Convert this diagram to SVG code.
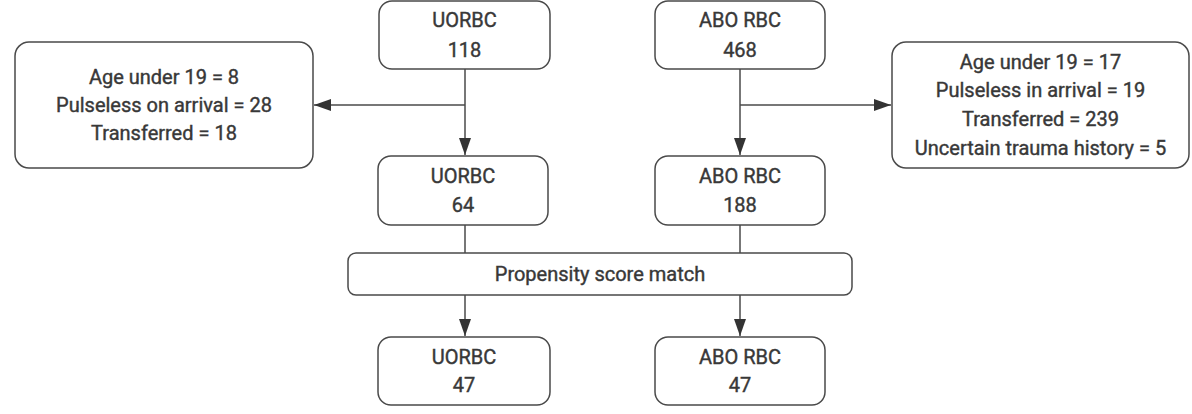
<svg xmlns="http://www.w3.org/2000/svg" width="1192" height="414" viewBox="0 0 1192 414">
  <style>
    .box { fill: #ffffff; stroke: #4a4a4a; stroke-width: 1.5; }
    .lbl { font-family: Roboto, "Liberation Sans", sans-serif; font-size: 20px; fill: #383838; stroke: #383838; stroke-width: 0.4; text-anchor: middle; }
    .edge { fill: none; stroke: #4a4a4a; stroke-width: 1.5; }
  </style>
  <defs>
    <marker id="arrow" markerUnits="userSpaceOnUse" markerWidth="17" markerHeight="12" refX="17" refY="6" orient="auto">
      <path d="M0,0 L17,6 L0,12 Z" fill="#333333"/>
    </marker>
  </defs>
  <rect width="1192" height="414" fill="#ffffff"/>

  <!-- connectors -->
  <g id="connectors">
    <path class="edge" d="M465,69 V155" marker-end="url(#arrow)"/>
    <path class="edge" d="M465,105 H314" marker-end="url(#arrow)"/>
    <path class="edge" d="M740,69 V155" marker-end="url(#arrow)"/>
    <path class="edge" d="M740,105 H891" marker-end="url(#arrow)"/>
    <path class="edge" d="M465,225 V253"/>
    <path class="edge" d="M740,225 V253"/>
    <path class="edge" d="M465,295 V336" marker-end="url(#arrow)"/>
    <path class="edge" d="M740,295 V336" marker-end="url(#arrow)"/>
  </g>

  <g id="uorbc-118">
    <rect class="box" x="379" y="1" width="171" height="68" rx="13"/>
    <text class="lbl" x="464.5" y="27">UORBC</text>
    <text class="lbl" x="464.5" y="57">118</text>
  </g>

  <g id="abo-468">
    <rect class="box" x="655" y="1" width="170" height="68" rx="13"/>
    <text class="lbl" x="740" y="27">ABO RBC</text>
    <text class="lbl" x="740" y="57">468</text>
  </g>

  <g id="excluded-uorbc">
    <rect class="box" x="15" y="42" width="298" height="126" rx="14"/>
    <text class="lbl" x="164" y="84">Age under 19 = 8</text>
    <text class="lbl" x="164" y="112">Pulseless on arrival = 28</text>
    <text class="lbl" x="164" y="140">Transferred = 18</text>
  </g>

  <g id="excluded-abo">
    <rect class="box" x="892" y="42" width="297" height="126" rx="14"/>
    <text class="lbl" x="1040.5" y="69">Age under 19 = 17</text>
    <text class="lbl" x="1040.5" y="97">Pulseless in arrival = 19</text>
    <text class="lbl" x="1040.5" y="126">Transferred = 239</text>
    <text class="lbl" x="1040.5" y="155">Uncertain trauma history = 5</text>
  </g>

  <g id="uorbc-64">
    <rect class="box" x="378" y="156" width="170" height="69" rx="13"/>
    <text class="lbl" x="463" y="183">UORBC</text>
    <text class="lbl" x="463" y="212">64</text>
  </g>

  <g id="abo-188">
    <rect class="box" x="655" y="156" width="170" height="69" rx="13"/>
    <text class="lbl" x="740" y="183">ABO RBC</text>
    <text class="lbl" x="740" y="212">188</text>
  </g>

  <g id="psm">
    <rect class="box" x="348" y="253" width="504" height="42" rx="8"/>
    <text class="lbl" x="600" y="281">Propensity score match</text>
  </g>

  <g id="uorbc-47">
    <rect class="box" x="378" y="337" width="172" height="68" rx="13"/>
    <text class="lbl" x="464" y="364">UORBC</text>
    <text class="lbl" x="464" y="392">47</text>
  </g>

  <g id="abo-47">
    <rect class="box" x="655" y="337" width="170" height="68" rx="13"/>
    <text class="lbl" x="740" y="364">ABO RBC</text>
    <text class="lbl" x="740" y="392">47</text>
  </g>
</svg>
